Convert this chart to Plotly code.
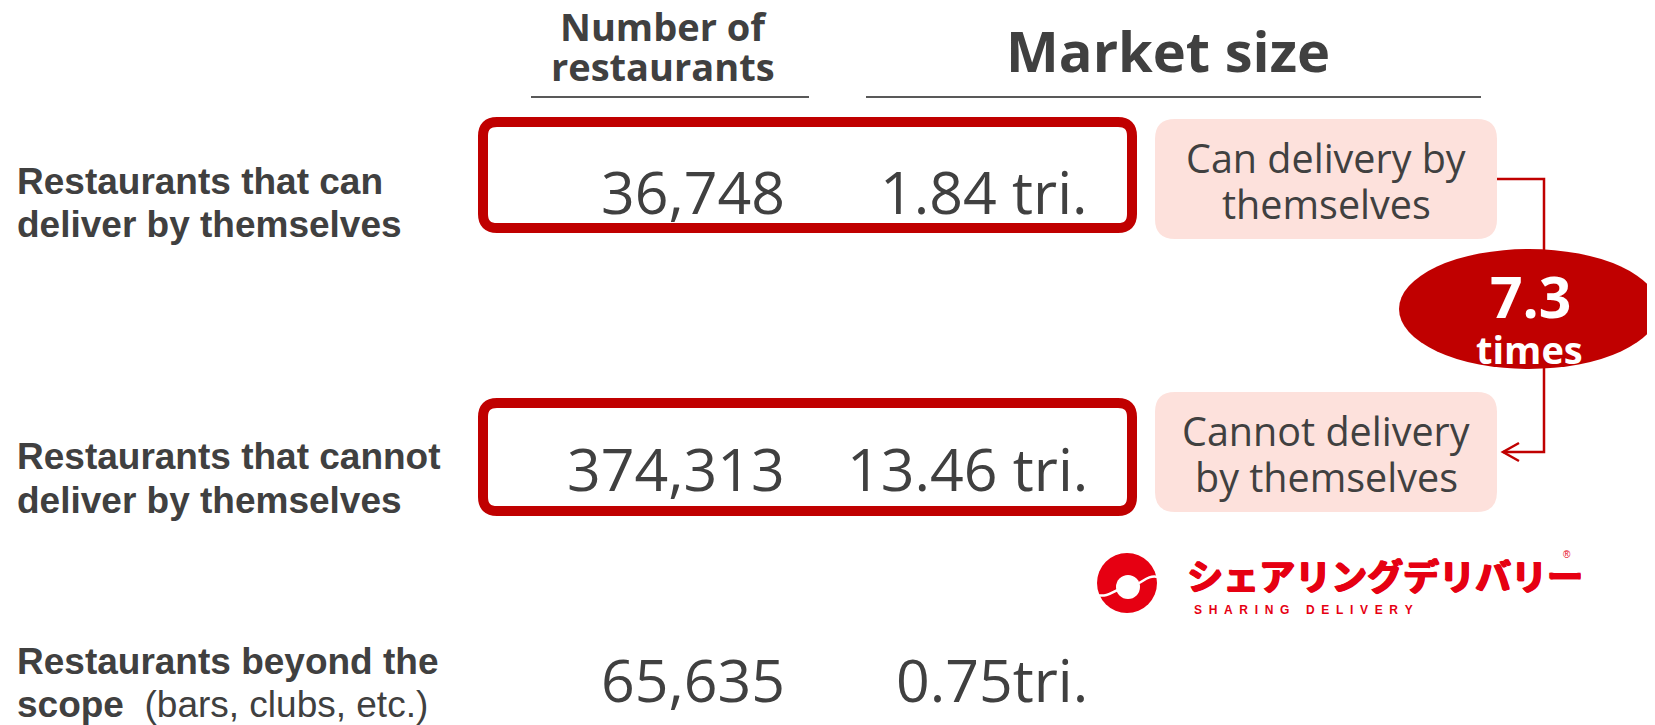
import plotly.graph_objects as go

# ---- data ----
row_labels = [
    ["<b>Restaurants that can</b>", "<b>deliver by themselves</b>"],
    ["<b>Restaurants that cannot</b>", "<b>deliver by themselves</b>"],
    ["<b>Restaurants beyond the</b>", "<b>scope</b>  (bars, clubs, etc.)"],
]
restaurant_counts = [36748, 374313, 65635]
market_size_tri = [1.84, 13.46, 0.75]
market_suffix = [" tri.", " tri.", "tri."]
compare_labels = [["Can delivery by", "themselves"], ["Cannot delivery", "by themselves"]]
col_headers = [["Number of", "restaurants"], ["Market size"]]
logo_jp = "シェアリングデリバリー"
logo_en = "SHARING DELIVERY"

ratio = market_size_tri[1] / market_size_tri[0]

# ---- layout constants (pixels of the page) ----
W, H = 1655, 725
PAGE_OFFSET = 8  # default body margin of the html page
TEXT = "#404040"
RED = "#C00000"
PINK = "#FDE1DC"
LOGO_RED = "#E60012"
ARIAL = "Liberation Sans"
SANS = "Open Sans"

row_y = [191, 468, 679]
label_line_y = [(181, 224), (456, 500), (661, 704)]
count_right, market_right = 787, 1090


def rounded_rect(x0, y0, x1, y1, r):
    return (f"M {x0 + r},{y0} L {x1 - r},{y0} Q {x1},{y0} {x1},{y0 + r} "
            f"L {x1},{y1 - r} Q {x1},{y1} {x1 - r},{y1} L {x0 + r},{y1} "
            f"Q {x0},{y1} {x0},{y1 - r} L {x0},{y0 + r} Q {x0},{y0} {x0 + r},{y0} Z")


fig = go.Figure()
fig.add_trace(go.Scatter(x=[0], y=[0], mode="markers", marker=dict(opacity=0), hoverinfo="skip", showlegend=False))

shapes = []
annotations = []


def note(text, x, y, size, family=SANS, color=TEXT, xanchor="center", **extra):
    font = dict(family=family, size=size, color=color, **extra)
    annotations.append(dict(text=text, x=x, y=y, xref="x", yref="y", showarrow=False,
                            xanchor=xanchor, yanchor="middle", font=font))


# column headers + underlines
note(f"<b>{col_headers[0][0]}</b>", 663, 26, 38)
note(f"<b>{col_headers[0][1]}</b>", 663, 66, 38)
note(f"<b>{col_headers[1][0]}</b>", 1168, 50, 56)
for x0, x1 in [(531, 809), (866, 1481)]:
    shapes.append(dict(type="line", x0=x0, x1=x1, y0=97, y1=97, xref="x", yref="y",
                       line=dict(color="#595959", width=2)))

# row labels and values
for i, lines in enumerate(row_labels):
    for line, ly in zip(lines, label_line_y[i]):
        note(line, 15, ly, 37, family=ARIAL, xanchor="left")
    note(f"{restaurant_counts[i]:,}", count_right, row_y[i], 59, xanchor="right")
    note(f"{market_size_tri[i]:.2f}{market_suffix[i]}", market_right, row_y[i], 59, xanchor="right")

# red frames around the first two rows
for y0, y1 in [(122, 228), (403, 511)]:
    shapes.append(dict(type="path", path=rounded_rect(483, y0, 1132, y1, 14), xref="x", yref="y",
                       line=dict(color=RED, width=10), fillcolor="rgba(0,0,0,0)"))

# pink comparison boxes
box_y = [(119, 239), (392, 512)]
box_text_y = [(158, 204), (431, 477)]
for (y0, y1), lines, tys in zip(box_y, compare_labels, box_text_y):
    shapes.append(dict(type="path", path=rounded_rect(1155, y0, 1497, y1, 20), xref="x", yref="y",
                       line=dict(width=0), fillcolor=PINK, layer="below"))
    for line, ty in zip(lines, tys):
        note(line, 1326, ty, 39.5)

# connector arrow
shapes.append(dict(type="path", path="M 1497,179 L 1544,179 L 1544,452 L 1503,452", xref="x", yref="y",
                   line=dict(color=RED, width=2.5)))
shapes.append(dict(type="path", path="M 1519,443 L 1503,452 L 1519,461", xref="x", yref="y",
                   line=dict(color=RED, width=2.5)))

# ratio ellipse
shapes.append(dict(type="circle", x0=1399, x1=1659, y0=249, y1=369, xref="x", yref="y",
                   line=dict(width=0), fillcolor=RED))
note(f"<b>{ratio:.1f}</b>", 1530, 296, 57, color="white")
note("<b>times</b>", 1529, 349, 38, color="white")

# logo
shapes.append(dict(type="circle", x0=1097, x1=1157, y0=553, y1=613, xref="x", yref="y",
                   line=dict(width=0), fillcolor=LOGO_RED))
shapes.append(dict(type="circle", x0=1116, x1=1140, y0=575, y1=599, xref="x", yref="y",
                   line=dict(width=0), fillcolor="white"))
shapes.append(dict(type="path", path="M 1097,595 C 1110,598 1115,588 1128,587 C 1141,586 1146,574 1158,577",
                   xref="x", yref="y", line=dict(color="white", width=2.5)))
heavy = f"1px 0px 0px {LOGO_RED}, 0px 1px 0px {LOGO_RED}, 1px 1px 0px {LOGO_RED}, -1px 0px 0px {LOGO_RED}"
note(f"<b>{logo_jp}</b>", 1185, 574, 36, family="Noto Sans CJK JP", color=LOGO_RED, xanchor="left",
     shadow=heavy)
note("®", 1567, 554, 10, family=ARIAL, color=LOGO_RED)
note("<b>" + "\u00a0\u00a0".join(logo_en) + "</b>", 1192, 610, 12, family=ARIAL, color=LOGO_RED, xanchor="left")

fig.update_layout(
    width=W, height=H,
    margin=dict(l=0, r=0, t=0, b=0),
    paper_bgcolor="white", plot_bgcolor="white",
    xaxis=dict(range=[PAGE_OFFSET, W + PAGE_OFFSET], visible=False, fixedrange=True),
    yaxis=dict(range=[H + PAGE_OFFSET, PAGE_OFFSET], visible=False, fixedrange=True),
    shapes=shapes, annotations=annotations, showlegend=False,
)
fig.write_html("out.html", config=dict(displayModeBar=False))
